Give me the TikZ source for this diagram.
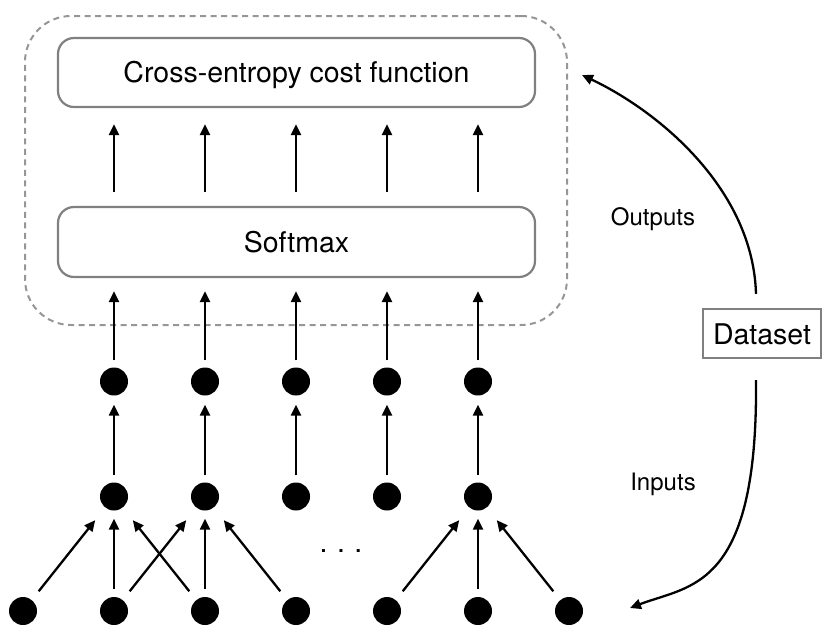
\documentclass[tikz,border=0pt]{standalone}
\usepackage{fontspec}
\setmainfont{TeX Gyre Heros}
\usetikzlibrary{arrows.meta}
\definecolor{boxgray}{RGB}{128,128,128}
\definecolor{dashgray}{RGB}{150,150,150}
\begin{document}
\begin{tikzpicture}[x=1pt,y=-1pt,
  dot/.style={circle,fill=black,minimum size=28pt,inner sep=0pt},
  arr/.style={line width=2.3pt,-{Triangle[length=11pt,width=10pt]}},
  box/.style={draw=boxgray,line width=2.2pt,rounded corners=16pt,minimum width=477pt,inner sep=0pt,
    text height=20pt,text depth=0pt,font=\fontsize{28.5}{34}\selectfont},
  lbl/.style={anchor=base,font=\fontsize{24}{28}\selectfont}]
\useasboundingbox (0,0) rectangle (830,637);

% group
\node[draw=dashgray,line width=2pt,dash pattern=on 6pt off 4.5pt,rounded corners=46pt,
  minimum width=542pt,minimum height=309pt,inner sep=0pt] (grp) at (296,170.5) {};

% boxes
\node[box,minimum height=69pt] (ce) at (296.5,72.5) {Cross-entropy cost function};
\node[box,minimum height=70pt] (sm) at (296.5,242) {Softmax};

% dots
\foreach \i/\x in {1/114,2/205,3/296,4/387,5/478}{
  \node[dot] (o\i) at (\x,381.5) {};
  \node[dot] (h\i) at (\x,496.5) {};
}
\foreach \i/\x in {1/23,2/114,3/205,4/296,5/387,6/478,7/569}{
  \node[dot] (b\i) at (\x,611) {};
}

% arrows
\foreach \i in {1,...,5}{
  \draw[arr,shorten <=14pt,shorten >=16pt] (o\i |- sm.north) -- (o\i |- ce.south);
  \draw[arr,shorten <=7pt,shorten >=13pt] (o\i) -- (o\i |- sm.south);
  \draw[arr,shorten <=7pt,shorten >=9pt] (h\i) -- (o\i);
}
\foreach \a/\b in {b2/h1,b3/h2,b6/h5}{
  \draw[arr,shorten <=8pt,shorten >=8pt] (\a) -- (\b);
}
\foreach \a/\b in {b1/h1,b3/h1,b2/h2,b4/h2,b5/h5,b7/h5}{
  \draw[arr,shorten <=11pt,shorten >=16pt] (\a) -- (\b);
}

\node[anchor=base,font=\fontsize{28.5}{34}\selectfont] (dots) at (341,552) {.\,\,.\,\,.};

% dataset
\node[draw=boxgray,line width=2.2pt,minimum width=118pt,minimum height=49pt,inner sep=0pt,
  text height=21pt,text depth=0pt,font=\fontsize{28.5}{34}\selectfont] (ds) at (762,333.5) {Dataset};

\coordinate (outend) at (582,75);
\coordinate (inend) at (630,608);
\draw[arr] ([xshift=-6pt,yshift=14pt]ds.north) .. controls (753,190) and (660,112) .. (outend);
\draw[arr] ([xshift=-6pt,yshift=-21pt]ds.south) .. controls (758,590) and (690,585) .. (inend);

\node[lbl] (outl) at (653,225) {Outputs};
\node[lbl] (inl) at (663,490) {Inputs};
\end{tikzpicture}
\end{document}
